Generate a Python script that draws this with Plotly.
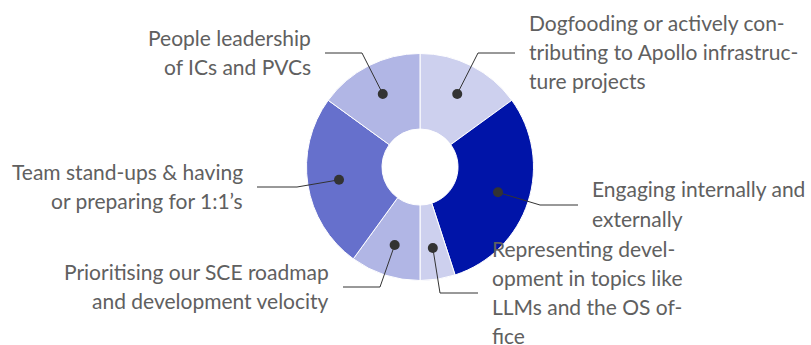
import math
import plotly.graph_objects as go

# slice data, clockwise from 12 o'clock
labels = [
    "Dogfooding or actively con-<br>tributing to Apollo infrastruc-<br>ture projects",
    "Engaging internally and<br>externally",
    "Representing devel-<br>opment in topics like<br>LLMs and the OS of-<br>fice",
    "Prioritising our SCE roadmap<br>and development velocity",
    "Team stand-ups &amp; having<br>or preparing for 1:1’s",
    "People leadership<br>of ICs and PVCs",
]
shares = [15, 30, 5, 10, 25, 15]
colors = ["#cdd0ee", "#0014a8", "#cdd0ee", "#b1b6e5", "#6670cc", "#b1b6e5"]

# leader line elbow / end points and label side (pixel layout)
elbows = [(478, 53), (540, 205), (440, 293), (380, 287), (297, 187), (362, 53)]
ends = [(515, 53), (578, 205), (478, 293), (343, 287), (257, 187), (325, 53)]
sides = ["left", "left", "left", "right", "right", "right"]

W, H = 811, 345
CX, CY, R = 420, 167, 113.5
DOT_R = 82       # distance of the marker dot from the centre
LINE_GAP = 29    # label line spacing in px


def px(x):
    return x / W


def py(y):
    return 1 - y / H


fig = go.Figure(go.Pie(
    values=shares,
    labels=[f"s{i}" for i in range(len(shares))],
    sort=False,
    direction="clockwise",
    rotation=0,
    hole=0.335,
    textinfo="none",
    hoverinfo="skip",
    marker=dict(colors=colors, line=dict(color="white", width=1)),
    domain=dict(x=[px(CX - R), px(CX + R)], y=[py(CY + R), py(CY - R)]),
    showlegend=False,
))

total = sum(shares)
cum = 0
shapes = []
annotations = []
for lab, v, (ex, ey), (tx, ty), side in zip(labels, shares, elbows, ends, sides):
    mid = (cum + v / 2) / total * 2 * math.pi
    cum += v
    dx = CX + DOT_R * math.sin(mid)
    dy = CY - DOT_R * math.cos(mid)
    shapes.append(dict(
        type="path", xref="paper", yref="paper", layer="above",
        path=f"M {px(dx)} {py(dy)} L {px(ex)} {py(ey)} L {px(tx)} {py(ty)}",
        line=dict(color="#333333", width=1),
    ))
    shapes.append(dict(
        type="circle", xref="paper", yref="paper", layer="above",
        x0=px(dx - 5), x1=px(dx + 5), y0=py(dy + 5), y1=py(dy - 5),
        fillcolor="#333333", line=dict(width=0),
    ))
    gap = 13 if side == "left" else -13
    lines = lab.split("<br>")
    first = ty - LINE_GAP * (len(lines) - 1) / 2 - 1.5
    for i, line in enumerate(lines):
        annotations.append(dict(
            text=line, xref="paper", yref="paper",
            x=px(tx + gap), y=py(first + i * LINE_GAP),
            xanchor=side, yanchor="middle", align=side,
            showarrow=False, borderpad=0,
            font=dict(family="Lato", size=21, color="#606060"),
        ))

fig.update_layout(
    width=W, height=H,
    margin=dict(l=0, r=0, t=0, b=0),
    paper_bgcolor="white",
    plot_bgcolor="white",
    shapes=shapes,
    annotations=annotations,
)

fig.write_html("out.html", config={"displayModeBar": False},
               post_script="document.body.style.margin = '0';")
